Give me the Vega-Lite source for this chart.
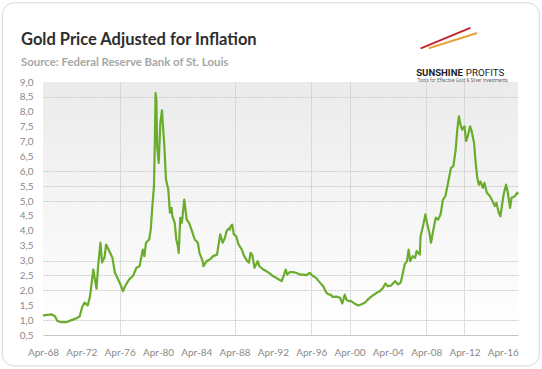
{
  "$schema": "https://vega.github.io/schema/vega-lite/v6.json",
  "width": 475,
  "height": 253,
  "autosize": {"type": "none"},
  "padding": {"left": 43, "top": 82, "right": 24, "bottom": 34},
  "background": "#ffffff",
  "config": {
    "view": {"stroke": null, "fill": {"gradient": "linear", "x1": 0, "y1": 0, "x2": 0, "y2": 1, "stops": [{"offset": 0, "color": "#ebebeb"}, {"offset": 1, "color": "#ffffff"}]}},
    "font": "Lato"
  },
  "title": {
    "text": "Gold Price Adjusted for Inflation",
    "subtitle": "Source: Federal Reserve Bank of St. Louis",
    "anchor": "start",
    "frame": "group",
    "dx": -22,
    "dy": 66,
    "font": "Lato",
    "fontSize": 16.5,
    "fontWeight": "bold",
    "color": "#2e2e2e",
    "subtitleFont": "Lato",
    "subtitleFontSize": 11.4,
    "subtitleFontWeight": "bold",
    "subtitleColor": "#a6a6a6",
    "subtitlePadding": 8,
    "offset": 0
  },
  "data": {"values": [
    {"d": "1968-04-01", "v": 1.16}, {"d": "1969-03-01", "v": 1.19}, {"d": "1969-07-01", "v": 1.13}, {"d": "1969-10-01", "v": 0.97},
    {"d": "1970-03-01", "v": 0.93}, {"d": "1970-09-01", "v": 0.93}, {"d": "1971-04-01", "v": 1.0}, {"d": "1971-10-01", "v": 1.06},
    {"d": "1972-02-01", "v": 1.13}, {"d": "1972-05-01", "v": 1.43}, {"d": "1972-08-01", "v": 1.59}, {"d": "1972-12-01", "v": 1.49},
    {"d": "1973-03-01", "v": 1.81}, {"d": "1973-07-01", "v": 2.7}, {"d": "1973-09-01", "v": 2.37}, {"d": "1973-11-01", "v": 2.06},
    {"d": "1974-01-01", "v": 2.81}, {"d": "1974-04-01", "v": 3.6}, {"d": "1974-06-01", "v": 2.94}, {"d": "1974-09-01", "v": 3.1},
    {"d": "1974-11-01", "v": 3.54}, {"d": "1975-02-01", "v": 3.37}, {"d": "1975-07-01", "v": 3.1}, {"d": "1975-10-01", "v": 2.6},
    {"d": "1976-02-01", "v": 2.37}, {"d": "1976-06-01", "v": 2.14}, {"d": "1976-08-01", "v": 1.97}, {"d": "1976-12-01", "v": 2.2},
    {"d": "1977-04-01", "v": 2.37}, {"d": "1977-09-01", "v": 2.5}, {"d": "1978-01-01", "v": 2.76}, {"d": "1978-05-01", "v": 2.81},
    {"d": "1978-09-01", "v": 3.37}, {"d": "1978-11-01", "v": 3.15}, {"d": "1979-01-01", "v": 3.6}, {"d": "1979-05-01", "v": 3.71},
    {"d": "1979-07-01", "v": 4.04}, {"d": "1979-09-01", "v": 4.83}, {"d": "1979-11-01", "v": 5.5}, {"d": "1979-12-01", "v": 6.84},
    {"d": "1980-01-01", "v": 8.63}, {"d": "1980-02-01", "v": 8.41}, {"d": "1980-03-01", "v": 6.84}, {"d": "1980-05-01", "v": 6.28},
    {"d": "1980-07-01", "v": 7.62}, {"d": "1980-09-01", "v": 8.05}, {"d": "1980-10-01", "v": 7.62}, {"d": "1980-12-01", "v": 6.84},
    {"d": "1981-02-01", "v": 5.72}, {"d": "1981-05-01", "v": 5.39}, {"d": "1981-07-01", "v": 4.61}, {"d": "1981-09-01", "v": 4.77},
    {"d": "1981-10-01", "v": 4.49}, {"d": "1982-01-01", "v": 4.27}, {"d": "1982-03-01", "v": 3.71}, {"d": "1982-05-01", "v": 3.48},
    {"d": "1982-06-01", "v": 3.26}, {"d": "1982-08-01", "v": 4.44}, {"d": "1982-10-01", "v": 4.27}, {"d": "1982-11-01", "v": 4.55},
    {"d": "1983-01-01", "v": 5.05}, {"d": "1983-04-01", "v": 4.38}, {"d": "1983-07-01", "v": 4.27}, {"d": "1983-10-01", "v": 4.04},
    {"d": "1984-02-01", "v": 3.71}, {"d": "1984-06-01", "v": 3.6}, {"d": "1984-08-01", "v": 3.26}, {"d": "1984-12-01", "v": 2.98},
    {"d": "1985-01-01", "v": 2.81}, {"d": "1985-05-01", "v": 2.98}, {"d": "1985-09-01", "v": 3.04}, {"d": "1986-01-01", "v": 3.15},
    {"d": "1986-06-01", "v": 3.2}, {"d": "1986-08-01", "v": 3.54}, {"d": "1986-10-01", "v": 3.88}, {"d": "1987-01-01", "v": 3.6},
    {"d": "1987-04-01", "v": 3.77}, {"d": "1987-06-01", "v": 3.99}, {"d": "1987-08-01", "v": 4.07}, {"d": "1987-10-01", "v": 4.04},
    {"d": "1987-11-01", "v": 4.15}, {"d": "1988-01-01", "v": 4.21}, {"d": "1988-03-01", "v": 3.88}, {"d": "1988-06-01", "v": 3.82},
    {"d": "1988-09-01", "v": 3.54}, {"d": "1989-01-01", "v": 3.37}, {"d": "1989-04-01", "v": 3.15}, {"d": "1989-08-01", "v": 2.98},
    {"d": "1989-10-01", "v": 2.93}, {"d": "1989-12-01", "v": 3.26}, {"d": "1990-02-01", "v": 3.2}, {"d": "1990-05-01", "v": 2.76},
    {"d": "1990-09-01", "v": 2.98}, {"d": "1990-11-01", "v": 2.81}, {"d": "1991-04-01", "v": 2.7}, {"d": "1991-08-01", "v": 2.64},
    {"d": "1991-12-01", "v": 2.57}, {"d": "1992-04-01", "v": 2.48}, {"d": "1992-08-01", "v": 2.42}, {"d": "1993-01-01", "v": 2.34},
    {"d": "1993-03-01", "v": 2.31}, {"d": "1993-06-01", "v": 2.53}, {"d": "1993-08-01", "v": 2.7}, {"d": "1993-10-01", "v": 2.53},
    {"d": "1994-01-01", "v": 2.61}, {"d": "1994-05-01", "v": 2.61}, {"d": "1994-09-01", "v": 2.59}, {"d": "1995-02-01", "v": 2.53},
    {"d": "1995-06-01", "v": 2.53}, {"d": "1995-10-01", "v": 2.51}, {"d": "1996-02-01", "v": 2.59}, {"d": "1996-06-01", "v": 2.48},
    {"d": "1996-10-01", "v": 2.42}, {"d": "1997-03-01", "v": 2.26}, {"d": "1997-07-01", "v": 2.14}, {"d": "1997-11-01", "v": 1.92},
    {"d": "1998-02-01", "v": 1.86}, {"d": "1998-04-01", "v": 1.86}, {"d": "1998-07-01", "v": 1.78}, {"d": "1998-12-01", "v": 1.79},
    {"d": "1999-04-01", "v": 1.75}, {"d": "1999-07-01", "v": 1.56}, {"d": "1999-10-01", "v": 1.86}, {"d": "1999-12-01", "v": 1.69},
    {"d": "2000-03-01", "v": 1.64}, {"d": "2000-06-01", "v": 1.64}, {"d": "2000-10-01", "v": 1.56}, {"d": "2001-03-01", "v": 1.49},
    {"d": "2001-07-01", "v": 1.53}, {"d": "2001-11-01", "v": 1.58}, {"d": "2002-03-01", "v": 1.69}, {"d": "2002-07-01", "v": 1.79},
    {"d": "2002-11-01", "v": 1.86}, {"d": "2003-02-01", "v": 1.92}, {"d": "2003-06-01", "v": 1.97}, {"d": "2003-10-01", "v": 2.09},
    {"d": "2004-01-01", "v": 2.23}, {"d": "2004-04-01", "v": 2.14}, {"d": "2004-08-01", "v": 2.16}, {"d": "2005-01-01", "v": 2.31},
    {"d": "2005-05-01", "v": 2.2}, {"d": "2005-08-01", "v": 2.26}, {"d": "2005-10-01", "v": 2.48}, {"d": "2006-01-01", "v": 2.87},
    {"d": "2006-04-01", "v": 2.98}, {"d": "2006-06-01", "v": 3.37}, {"d": "2006-08-01", "v": 2.98}, {"d": "2006-11-01", "v": 3.15},
    {"d": "2007-02-01", "v": 3.09}, {"d": "2007-04-01", "v": 3.32}, {"d": "2007-08-01", "v": 3.2}, {"d": "2007-09-01", "v": 3.82},
    {"d": "2007-12-01", "v": 4.15}, {"d": "2008-03-01", "v": 4.55}, {"d": "2008-05-01", "v": 4.27}, {"d": "2008-08-01", "v": 3.93},
    {"d": "2008-10-01", "v": 3.6}, {"d": "2009-01-01", "v": 4.04}, {"d": "2009-04-01", "v": 4.44}, {"d": "2009-07-01", "v": 4.38},
    {"d": "2009-10-01", "v": 4.55}, {"d": "2010-01-01", "v": 5.05}, {"d": "2010-04-01", "v": 5.16}, {"d": "2010-07-01", "v": 5.55},
    {"d": "2010-11-01", "v": 6.11}, {"d": "2011-02-01", "v": 6.17}, {"d": "2011-05-01", "v": 6.73}, {"d": "2011-07-01", "v": 7.4},
    {"d": "2011-09-01", "v": 7.85}, {"d": "2011-11-01", "v": 7.57}, {"d": "2012-01-01", "v": 7.4}, {"d": "2012-04-01", "v": 7.51},
    {"d": "2012-06-01", "v": 7.01}, {"d": "2012-08-01", "v": 7.17}, {"d": "2012-11-01", "v": 7.51}, {"d": "2013-01-01", "v": 7.34},
    {"d": "2013-04-01", "v": 6.95}, {"d": "2013-06-01", "v": 6.28}, {"d": "2013-08-01", "v": 5.78}, {"d": "2013-10-01", "v": 5.55},
    {"d": "2013-12-01", "v": 5.66}, {"d": "2014-03-01", "v": 5.44}, {"d": "2014-05-01", "v": 5.61}, {"d": "2014-08-01", "v": 5.28},
    {"d": "2014-12-01", "v": 5.16}, {"d": "2015-02-01", "v": 5.05}, {"d": "2015-06-01", "v": 4.83}, {"d": "2015-08-01", "v": 4.94},
    {"d": "2015-11-01", "v": 4.6}, {"d": "2016-01-01", "v": 4.49}, {"d": "2016-05-01", "v": 5.22}, {"d": "2016-08-01", "v": 5.55},
    {"d": "2016-10-01", "v": 5.33}, {"d": "2017-01-01", "v": 4.77}, {"d": "2017-03-01", "v": 5.11}, {"d": "2017-07-01", "v": 5.16},
    {"d": "2017-10-01", "v": 5.28}, {"d": "2017-11-01", "v": 5.22}
  ]},
  "encoding": {
    "x": {
      "field": "d", "type": "temporal",
      "scale": {"domain": [{"year": 1968, "month": 4, "date": 1}, {"year": 2017, "month": 11, "date": 1}]},
      "axis": {
        "title": null,
        "values": [
          {"year": 1968, "month": 4, "date": 1}, {"year": 1972, "month": 4, "date": 1}, {"year": 1976, "month": 4, "date": 1},
          {"year": 1980, "month": 4, "date": 1}, {"year": 1984, "month": 4, "date": 1}, {"year": 1988, "month": 4, "date": 1},
          {"year": 1992, "month": 4, "date": 1}, {"year": 1996, "month": 4, "date": 1}, {"year": 2000, "month": 4, "date": 1},
          {"year": 2004, "month": 4, "date": 1}, {"year": 2008, "month": 4, "date": 1}, {"year": 2012, "month": 4, "date": 1},
          {"year": 2016, "month": 4, "date": 1}
        ],
        "format": "%b-%y",
        "labelFlush": false,
        "labelOverlap": false,
        "labelFont": "Lato",
        "labelFontSize": 10,
        "labelColor": "#8a8a8a",
        "labelPadding": 12,
        "ticks": false,
        "domain": true,
        "domainColor": "#c4c4c4",
        "grid": true,
        "gridColor": "#cccccc",
        "gridDash": [2, 1],
        "gridOpacity": {"condition": {"test": "indexof([1976,1988,1996,2000,2008,2012], year(datum.value)) >= 0", "value": 1}, "value": 0}
      }
    },
    "y": {
      "field": "v", "type": "quantitative",
      "scale": {"domain": [0.5, 9], "nice": false, "zero": false},
      "axis": {
        "title": null,
        "values": [0.5, 1, 1.5, 2, 2.5, 3, 3.5, 4, 4.5, 5, 5.5, 6, 6.5, 7, 7.5, 8, 8.5, 9],
        "labelExpr": "replace(format(datum.value, '.1f'), '.', ',')",
        "labelFont": "Lato",
        "labelFontSize": 10,
        "labelColor": "#8a8a8a",
        "labelPadding": 10,
        "ticks": false,
        "domain": false,
        "grid": true,
        "gridColor": "#cccccc",
        "gridDash": [2, 1],
        "gridOpacity": {"condition": {"test": "indexof([1,2,2.5,3,5,5.5,6,8.5], datum.value) >= 0", "value": 1}, "value": 0}
      }
    }
  },
  "layer": [
    {
      "mark": {"type": "line", "color": "#6aac2c", "strokeWidth": 2.2, "strokeJoin": "round"}
    },
    {
      "transform": [{"filter": "datum.v == 8.63"}],
      "mark": {"type": "rect", "fill": "transparent", "stroke": "#d6d6d6", "strokeWidth": 1, "cornerRadius": 12, "clip": false},
      "encoding": {
        "x": {"datum": {"year": 1964, "month": 1, "date": 1}, "type": "temporal"},
        "x2": {"datum": {"year": 2020, "month": 1, "date": 20}},
        "y": {"datum": 11.66, "type": "quantitative"},
        "y2": {"datum": -0.54}
      }
    },
    {
      "transform": [{"filter": "datum.v == 8.63"}],
      "mark": {"type": "rule", "color": "#c4262e", "strokeWidth": 2, "strokeCap": "round"},
      "encoding": {
        "x": {"datum": {"year": 2007, "month": 10, "date": 1}, "type": "temporal"},
        "x2": {"datum": {"year": 2012, "month": 10, "date": 18}},
        "y": {"datum": 10.14, "type": "quantitative"},
        "y2": {"datum": 10.81}
      }
    },
    {
      "transform": [{"filter": "datum.v == 8.63"}],
      "mark": {"type": "rule", "color": "#e9a23b", "strokeWidth": 2, "strokeCap": "round"},
      "encoding": {
        "x": {"datum": {"year": 2008, "month": 8, "date": 10}, "type": "temporal"},
        "x2": {"datum": {"year": 2013, "month": 6, "date": 27}},
        "y": {"datum": 10.14, "type": "quantitative"},
        "y2": {"datum": 10.64}
      }
    },
    {
      "transform": [{"filter": "datum.v == 8.63"}],
      "mark": {"type": "text", "text": "SUNSHINE", "align": "left", "baseline": "middle", "font": "Roboto", "fontSize": 9.6, "fontWeight": "bold", "color": "#222222"},
      "encoding": {
        "x": {"datum": {"year": 2007, "month": 3, "date": 17}, "type": "temporal"},
        "y": {"datum": 9.3, "type": "quantitative"}
      }
    },
    {
      "transform": [{"filter": "datum.v == 8.63"}],
      "mark": {"type": "text", "text": "PROFITS", "align": "left", "baseline": "middle", "font": "Roboto", "fontSize": 9.8, "color": "#222222"},
      "encoding": {
        "x": {"datum": {"year": 2012, "month": 5, "date": 20}, "type": "temporal"},
        "y": {"datum": 9.3, "type": "quantitative"}
      }
    },
    {
      "transform": [{"filter": "datum.v == 8.63"}],
      "mark": {"type": "text", "text": "Tools for Effective Gold & Silver Investments", "align": "left", "baseline": "middle", "font": "Roboto", "fontSize": 4.6, "color": "#555555"},
      "encoding": {
        "x": {"datum": {"year": 2007, "month": 5, "date": 10}, "type": "temporal"},
        "y": {"datum": 9.04, "type": "quantitative"}
      }
    }
  ]
}
